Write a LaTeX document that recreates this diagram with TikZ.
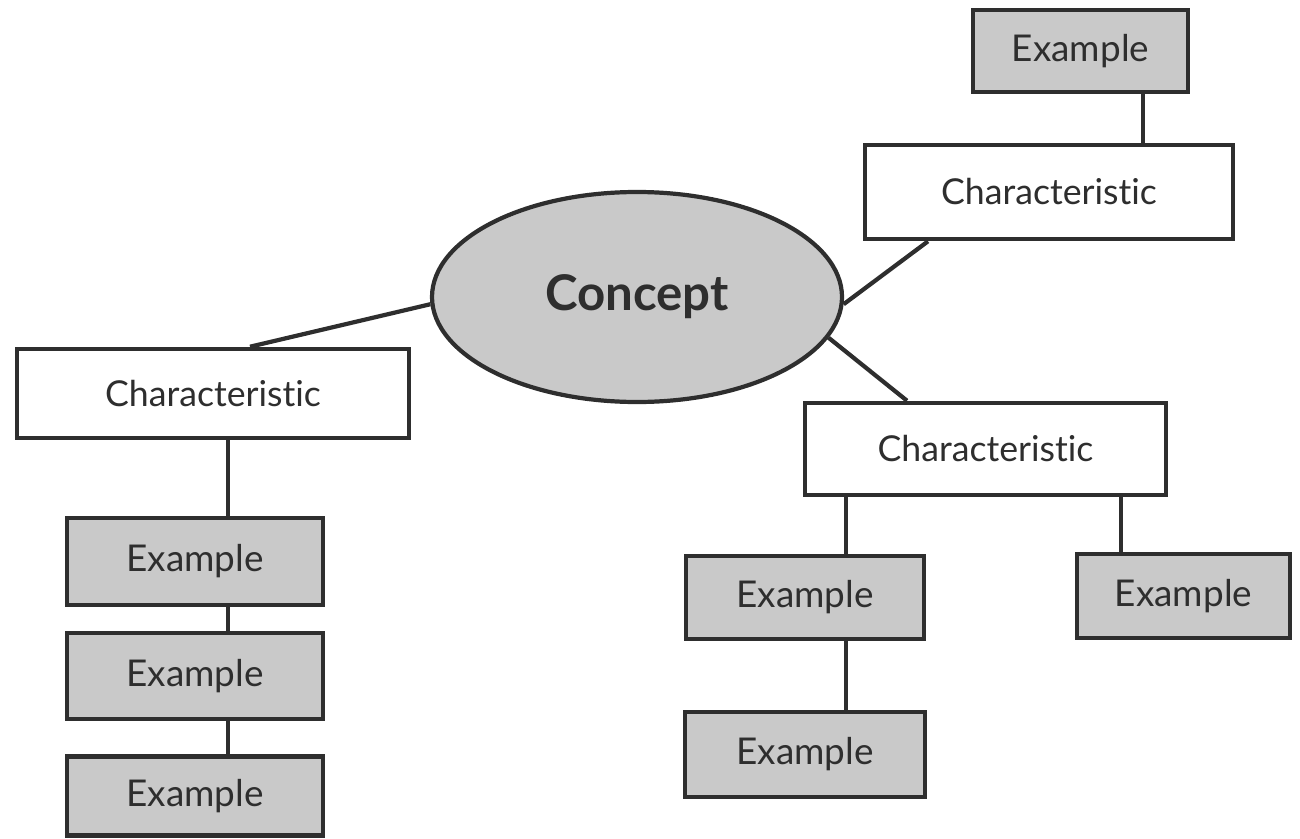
\documentclass[tikz,border=0pt]{standalone}
\usepackage{fontspec}
\setmainfont{Lato}[Ligatures={NoCommon}]
\usetikzlibrary{shapes.geometric,calc}
\definecolor{ink}{HTML}{2E2E2E}
\definecolor{shade}{HTML}{C9C9C9}
\begin{document}
\begin{tikzpicture}[x=0.02cm,y=-0.02cm,
  box/.style={draw=ink,line width=2.6pt,rectangle,inner sep=0pt,text=ink},
  charbox/.style={box,fill=white,font=\fontsize{20.3}{24}\selectfont},
  exbox/.style={box,fill=shade,font=\fontsize{21}{24}\selectfont},
  idea/.style={draw=ink,line width=2.4pt,ellipse,inner sep=0pt,fill=shade,
    text=ink,font=\fontsize{28}{32}\selectfont\bfseries},
  link/.style={draw=ink,line width=2.4pt}]
\useasboundingbox (0,0) rectangle (1300,838);

% central concept
\node[idea,minimum width=410*0.02cm,minimum height=210*0.02cm] (concept) at (637,297) {\raisebox{3pt}{Concept}};

% characteristics
\node[charbox,minimum width=368*0.02cm,minimum height=94*0.02cm] (chT) at (1049,192) {Characteristic};
\node[charbox,minimum width=392*0.02cm,minimum height=89*0.02cm] (chL) at (213,393.5) {Characteristic};
\node[charbox,minimum width=361*0.02cm,minimum height=92*0.02cm] (chR) at (985.5,449) {Characteristic};

% examples
\node[exbox,minimum width=215*0.02cm,minimum height=82*0.02cm] (exT) at (1080.5,51) {Example};
\node[exbox,minimum width=256*0.02cm,minimum height=87*0.02cm] (exL1) at (195,561.5) {Example};
\node[exbox,minimum width=256*0.02cm,minimum height=86*0.02cm] (exL2) at (195,676) {Example};
\node[exbox,minimum width=256*0.02cm,minimum height=79*0.02cm] (exL3) at (195,796) {Example};
\node[exbox,minimum width=238*0.02cm,minimum height=83*0.02cm] (exR1) at (805,597.5) {Example};
\node[exbox,minimum width=240*0.02cm,minimum height=85*0.02cm] (exR2) at (805,754.5) {Example};
\node[exbox,minimum width=213*0.02cm,minimum height=84*0.02cm] (exR3) at (1183.5,596) {Example};

% attachment columns
\coordinate (cT) at (1143,0);
\coordinate (cTs) at (928,0);
\coordinate (cLs) at (250,0);
\coordinate (cRs) at (907,0);
\coordinate (cL) at (228,0);
\coordinate (cR1) at (846,0);
\coordinate (cR3) at (1121,0);

% connectors
\draw[link] (exT.south -| cT) -- (chT.north -| cT);
\draw[link] (concept.-2) -- (chT.south -| cTs);
\draw[link] (concept.182) -- (chL.north -| cLs);
\draw[link] (concept.-12) -- (chR.north -| cRs);
\draw[link] (chL.south -| cL) -- (exL1.north -| cL);
\draw[link] (exL1.south -| cL) -- (exL2.north -| cL);
\draw[link] (exL2.south -| cL) -- (exL3.north -| cL);
\draw[link] (chR.south -| cR1) -- (exR1.north -| cR1);
\draw[link] (exR1.south -| cR1) -- (exR2.north -| cR1);
\draw[link] (chR.south -| cR3) -- (exR3.north -| cR3);
\end{tikzpicture}
\end{document}
